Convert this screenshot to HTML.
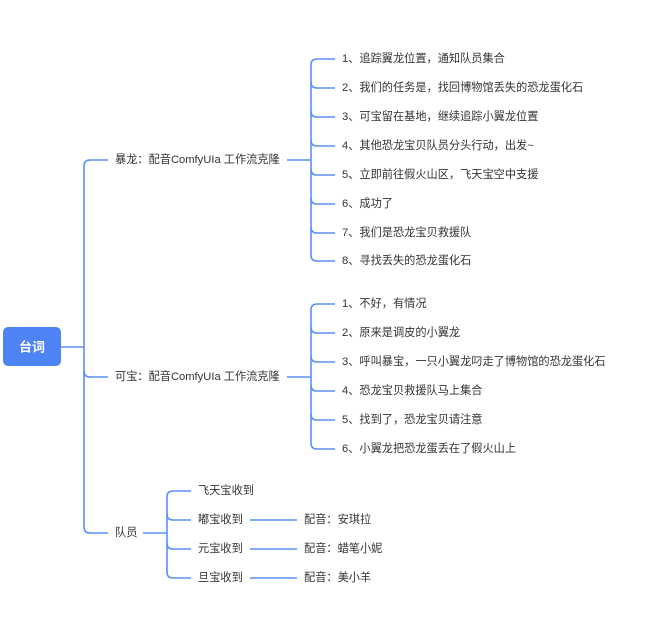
<!DOCTYPE html>
<html><head><meta charset="utf-8"><style>
html,body{margin:0;padding:0;background:#fff;}
svg{display:block}
text{font-family:"Liberation Sans","Noto Sans CJK SC",sans-serif;font-size:11.2px;fill:#333;dominant-baseline:central;}
</style></head><body>
<svg width="669" height="629" viewBox="0 0 669 629">
<g fill="none" stroke="#5b8ff9" stroke-width="1.6">
<!-- root to trunk -->
<path d="M61 347 H84"/>
<path d="M108 160 H90 Q84 160 84 166 V527 Q84 533 90 533 H108"/>
<path d="M84 371 Q84 377 90 377 H108"/>
<!-- branch1 -->
<path d="M287 160 H311"/>
<path d="M335 59 H317 Q311 59 311 65 V255 Q311 261 317 261 H335"/>
<path d="M311 82 Q311 88 317 88 H335"/>
<path d="M311 111 Q311 117 317 117 H335"/>
<path d="M311 140 Q311 146 317 146 H335"/>
<path d="M311 169 Q311 175 317 175 H335"/>
<path d="M311 198 Q311 204 317 204 H335"/>
<path d="M311 227 Q311 233 317 233 H335"/>
<!-- branch2 -->
<path d="M287 377 H311"/>
<path d="M335 304 H317 Q311 304 311 310 V443 Q311 449 317 449 H335"/>
<path d="M311 327 Q311 333 317 333 H335"/>
<path d="M311 356 Q311 362 317 362 H335"/>
<path d="M311 385 Q311 391 317 391 H335"/>
<path d="M311 414 Q311 420 317 420 H335"/>
<!-- branch3 -->
<path d="M143 533 H167"/>
<path d="M191 491 H173 Q167 491 167 497 V572 Q167 578 173 578 H191"/>
<path d="M167 514 Q167 520 173 520 H191"/>
<path d="M167 543 Q167 549 173 549 H191"/>
<path d="M250 520 H297"/>
<path d="M250 549 H297"/>
<path d="M250 578 H297"/>
</g>
<rect x="3" y="327" width="58" height="39" rx="5" fill="#4e83f5"/>
<text x="32" y="347" text-anchor="middle" style="fill:#fff;font-weight:bold;font-size:13px">台词</text>

<text x="115" y="160">暴龙：配音ComfyUIa 工作流克隆</text>
<text x="115" y="377">可宝：配音ComfyUIa 工作流克隆</text>
<text x="115" y="533">队员</text>

<text x="342" y="59">1、追踪翼龙位置，通知队员集合</text>
<text x="342" y="88">2、我们的任务是，找回博物馆丢失的恐龙蛋化石</text>
<text x="342" y="117">3、可宝留在基地，继续追踪小翼龙位置</text>
<text x="342" y="146">4、其他恐龙宝贝队员分头行动，出发~</text>
<text x="342" y="175">5、立即前往假火山区，飞天宝空中支援</text>
<text x="342" y="204">6、成功了</text>
<text x="342" y="233">7、我们是恐龙宝贝救援队</text>
<text x="342" y="261">8、寻找丢失的恐龙蛋化石</text>

<text x="342" y="304">1、不好，有情况</text>
<text x="342" y="333">2、原来是调皮的小翼龙</text>
<text x="342" y="362">3、呼叫暴宝，一只小翼龙叼走了博物馆的恐龙蛋化石</text>
<text x="342" y="391">4、恐龙宝贝救援队马上集合</text>
<text x="342" y="420">5、找到了，恐龙宝贝请注意</text>
<text x="342" y="449">6、小翼龙把恐龙蛋丢在了假火山上</text>

<text x="198" y="491">飞天宝收到</text>
<text x="198" y="520">嘟宝收到</text>
<text x="198" y="549">元宝收到</text>
<text x="198" y="578">旦宝收到</text>
<text x="304" y="520">配音：安琪拉</text>
<text x="304" y="549">配音：蜡笔小妮</text>
<text x="304" y="578">配音：美小羊</text>
</svg>
</body></html>
